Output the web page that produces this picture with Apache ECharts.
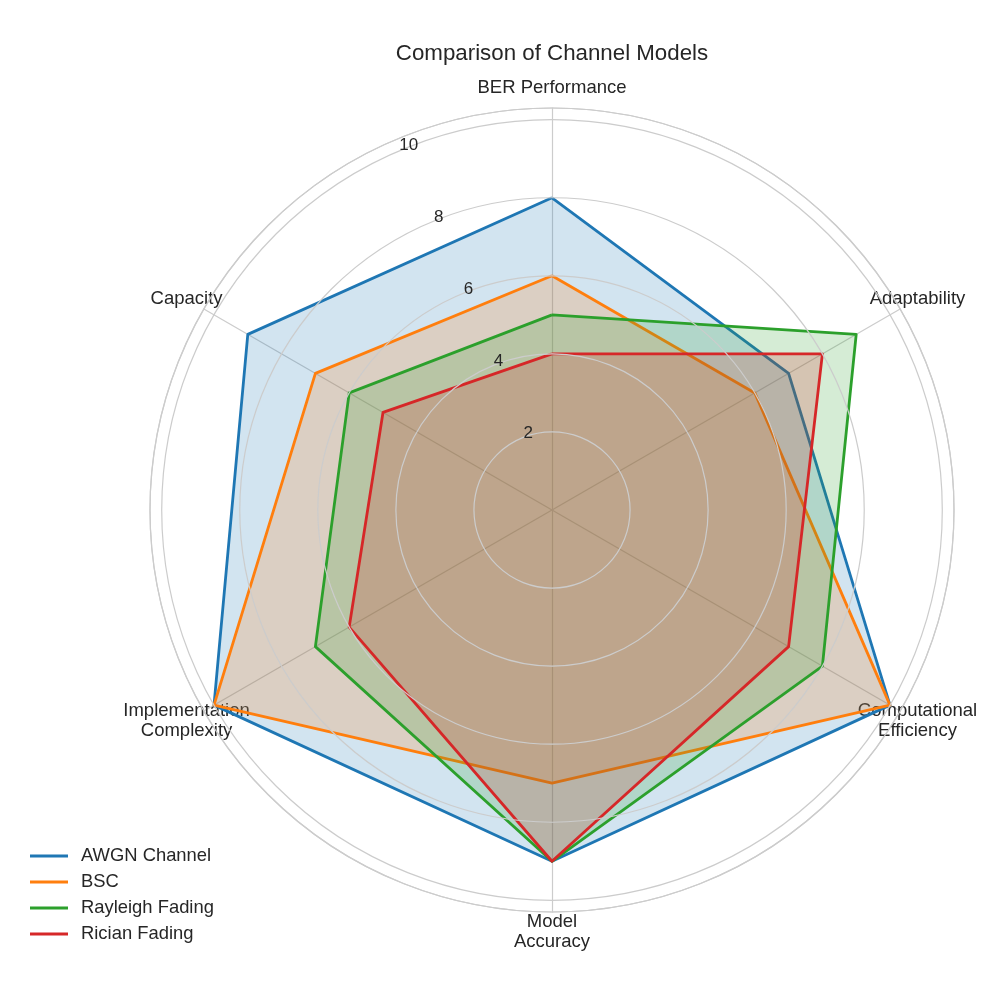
<!DOCTYPE html>
<html>
<head>
<meta charset="utf-8">
<title>Comparison of Channel Models</title>
<script src="https://cdn.jsdelivr.net/npm/echarts@6/dist/echarts.min.js"></script>
<style>
  html, body { margin: 0; padding: 0; background: #fff; }
  #chart { width: 1000px; height: 1000px; }
</style>
</head>
<body>
<div id="chart"></div>
<script>
// axes listed in the order radar draws them (counter-clockwise from the top)
const categories = ['BER Performance', 'Capacity', 'Implementation\nComplexity', 'Model\nAccuracy', 'Computational\nEfficiency', 'Adaptability'];
const seriesNames = ['AWGN Channel', 'BSC', 'Rayleigh Fading', 'Rician Fading'];
const awgn = [8, 9, 10, 9, 10, 7];
const bsc = [6, 7, 10, 7, 10, 6];
const rayleigh = [5, 6, 7, 9, 8, 9];
const rician = [4, 5, 6, 9, 7, 8];
const colors = ['#1f77b4', '#ff7f0e', '#2ca02c', '#d62728'];
const rMax = 10.3;
const rTicks = [2, 4, 6, 8, 10];

const font = "'Liberation Sans', Arial, sans-serif";
const gridColor = '#cccccc';
const textColor = '#262626';

const chart = echarts.init(document.getElementById('chart'));
const values = [awgn, bsc, rayleigh, rician];

chart.setOption({
  backgroundColor: '#fff',
  animation: false,
  textStyle: { fontFamily: font },
  title: {
    text: 'Comparison of Channel Models',
    left: 547,
    textAlign: 'center',
    top: 38,
    textStyle: { fontSize: 22.3, fontWeight: 'normal', color: textColor, fontFamily: font }
  },
  legend: {
    data: seriesNames,
    orient: 'vertical',
    left: 25,
    top: 842,
    icon: 'rect',
    itemWidth: 38,
    itemHeight: 3,
    itemGap: 8,
    textStyle: { fontSize: 18.4, color: textColor, fontFamily: font, padding: [0, 0, 0, 8] }
  },
  // circular grid + radial tick labels
  polar: { center: [552, 510], radius: 402 },
  angleAxis: {
    type: 'value',
    min: 0,
    max: 360,
    startAngle: 112.5,
    axisLine: { show: true, lineStyle: { color: gridColor, width: 1.2 } },
    axisTick: { show: false },
    axisLabel: { show: false },
    splitLine: { show: false }
  },
  radiusAxis: {
    min: 0,
    max: rMax,
    interval: 2,
    z: 5,
    axisLine: { show: false },
    axisTick: { show: false },
    axisLabel: {
      fontSize: 17,
      color: textColor,
      fontFamily: font,
      margin: -11,
      align: 'center',
      verticalAlign: 'middle',
      padding: [0, 8, 8, 0],
      formatter: v => (rTicks.indexOf(v) >= 0 ? String(v) : '')
    },
    splitLine: { show: true, lineStyle: { color: gridColor, width: 1.2 } }
  },
  radar: {
    center: [552, 510],
    radius: 402,
    startAngle: 90,
    shape: 'circle',
    indicator: categories.map(name => ({ name: name, min: 0, max: rMax })),
    nameGap: 20,
    axisName: {
      color: textColor,
      fontSize: 18.5,
      fontFamily: font,
      lineHeight: 20,
      align: 'center',
      verticalAlign: 'middle'
    },
    axisLine: { lineStyle: { color: gridColor, width: 1.2 } },
    axisTick: { show: false },
    axisLabel: { show: false },
    splitLine: { show: false },
    splitArea: { show: false }
  },
  series: [{
    type: 'radar',
    symbol: 'none',
    data: seriesNames.map((name, i) => ({
      name: name,
      value: values[i],
      lineStyle: { color: colors[i], width: 2.8 },
      itemStyle: { color: colors[i] },
      areaStyle: { color: colors[i], opacity: 0.2 }
    }))
  }]
});
</script>
</body>
</html>
